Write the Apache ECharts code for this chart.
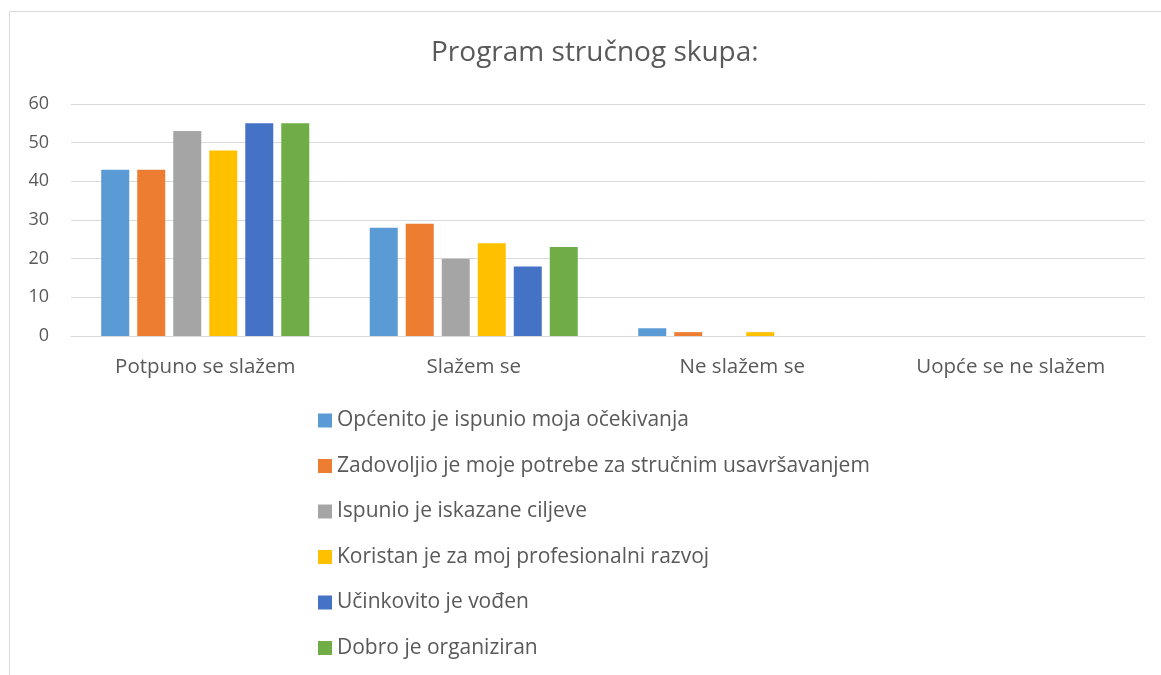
<!DOCTYPE html>
<html>
<head>
<meta charset="utf-8">
<script src="https://cdn.jsdelivr.net/npm/echarts@6/dist/echarts.min.js"></script>
<style>
  html, body { margin: 0; padding: 0; background: #fff; }
  #chart { width: 1161px; height: 675px; }
</style>
</head>
<body>
<div id="chart"></div>
<script>
    // kategorije i serije
    var categories = ['Potpuno se slažem', 'Slažem se', 'Ne slažem se', 'Uopće se ne slažem'];
    var seriesNames = [
        'Općenito je ispunio moja očekivanja',
        'Zadovoljio je moje potrebe za stručnim usavršavanjem',
        'Ispunio je iskazane ciljeve',
        'Koristan je za moj profesionalni razvoj',
        'Učinkovito je vođen',
        'Dobro je organiziran'
    ];
    var ocekivanja = [43, 28, 2, 0];
    var potrebe = [43, 29, 1, 0];
    var ciljevi = [53, 20, 0, 0];
    var razvoj = [48, 24, 1, 0];
    var vodjen = [55, 18, 0, 0];
    var organiziran = [55, 23, 0, 0];
    var colors = ['#5b9bd5', '#ed7d31', '#a5a5a5', '#ffc000', '#4472c4', '#70ad47'];

    var font = '"Open Sans", "Liberation Sans", sans-serif';
    var values = [ocekivanja, potrebe, ciljevi, razvoj, vodjen, organiziran];

    var series = seriesNames.map(function (name, i) {
        return {
            name: name,
            type: 'bar',
            data: values[i],
            barWidth: 28,
            barGap: '28.6%',
            itemStyle: { color: colors[i] },
            animation: false
        };
    });

    var chart = echarts.init(document.getElementById('chart'));
    chart.setOption({
        animation: false,
        color: colors,
        graphic: [{
            type: 'rect',
            shape: { x: 9.5, y: 11.5, width: 1180, height: 700 },
            style: { fill: 'none', stroke: '#d9d9d9', lineWidth: 1 },
            silent: true
        }],
        title: {
            text: 'Program stručnog skupa:',
            left: 431,
            top: 39,
            padding: 0,
            textStyle: { fontFamily: font, fontSize: 28, fontWeight: 'normal', color: '#595959' }
        },
        legend: {
            orient: 'vertical',
            left: 318,
            top: 410,
            padding: 0,
            itemWidth: 14,
            itemHeight: 14,
            itemGap: 24.5,
            icon: 'rect',
            textStyle: { fontFamily: font, fontSize: 21, color: '#595959' },
            data: seriesNames
        },
        grid: { left: 71, right: 16, top: 104, bottom: 339, containLabel: false },
        xAxis: {
            type: 'category',
            data: categories,
            axisLine: { lineStyle: { color: '#d9d9d9', width: 1 } },
            axisTick: { show: false },
            axisLabel: { fontFamily: font, fontSize: 20.5, color: '#595959', margin: 21 }
        },
        yAxis: {
            type: 'value',
            min: 0,
            max: 60,
            interval: 10,
            axisLine: { show: false },
            axisTick: { show: false },
            splitLine: { lineStyle: { color: '#d9d9d9', width: 1 } },
            axisLabel: { fontFamily: font, fontSize: 18, color: '#595959', margin: 22 }
        },
        series: series
    });
</script>
</body>
</html>
